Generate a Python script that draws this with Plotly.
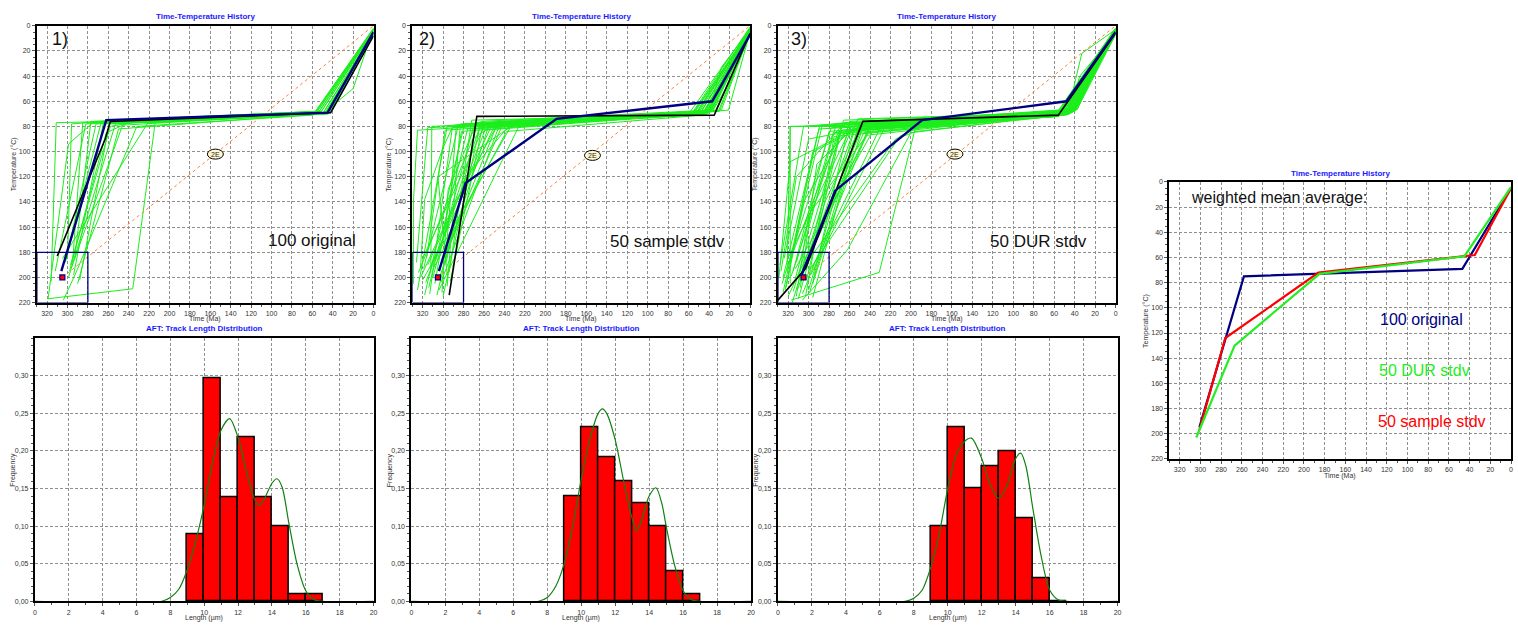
import plotly.graph_objects as go

W, H = 1518, 626
FONT = "Liberation Sans, Arial, sans-serif"

# ---------------- Time-temperature data (time in Ma, temperature in °C) ----------------
time_ticks = [320, 300, 280, 260, 240, 220, 200, 180, 160, 140, 120, 100, 80, 60, 40, 20, 0]
temp_ticks = [0, 20, 40, 60, 80, 100, 120, 140, 160, 180, 200, 220]

# constraint box and the 2E reference line
box_time = [330, 280]
box_temp = [180, 220]
ref_time = [305, 0]
ref_temp = [200, 0]
label_2e_time = [155, 154, 157]
label_2e_temp = [102, 103, 102]

# best-fit (black) and weighted mean (navy) paths per model run
best1_t = [310, 263, 258, 42, 0]
best1_T = [183, 90, 76, 69, 8]
mean1_t = [306, 262, 45, 0]
mean1_T = [195, 75, 69, 5]

best2_t = [294, 267, 35, 0]
best2_T = [214, 72, 71, 6]
mean2_t = [304, 278, 189, 37, 0]
mean2_T = [195, 125, 74, 60, 7]

best3_t = [330, 303, 247, 56, 0]
best3_T = [218, 193, 76, 71, 6]
mean3_t = [307, 274, 189, 48, 0]
mean3_T = [198, 131, 75, 60, 5]

# accepted (green) paths, each a list of (time, temperature) nodes
paths1 = [
    [(316, 203), (311, 77), (255, 76), (55, 68), (0, 3)],
    [(320, 217), (236, 209), (214, 77), (50, 70), (0, 5)],
    [(319, 217), (299, 94), (275, 77), (52, 69), (0, 4)],
    [(300, 185), (296, 78), (250, 75), (57, 68), (0, 2)],
    [(297, 190), (258, 80), (230, 76), (48, 70), (0, 6)],
    [(294, 198), (265, 78), (50, 70), (20, 50), (0, 2)],
    [(302, 188), (272, 78), (45, 70), (0, 6)],
    [(290, 205), (250, 82), (55, 70), (0, 3)],
    [(298, 195), (262, 85), (240, 77), (46, 69), (0, 5)],
    [(293, 185), (277, 76), (53, 68), (0, 4)],
    [(305, 185), (221, 77), (47, 70), (0, 7)],
    [(296, 192), (246, 79), (58, 70), (0, 3)],
    [(288, 202), (259, 78), (49, 69), (0, 5)],
    [(300, 180), (267, 77), (44, 70), (0, 8)],
    [(312, 195), (282, 78), (51, 68), (0, 4)],
    [(295, 188), (285, 77), (56, 69), (0, 3)],
    [(299, 200), (253, 78), (48, 70), (0, 6)],
    [(304, 218), (291, 195), (232, 80), (59, 71), (0, 2)],
]

paths2 = [
    [(329, 205), (329, 140), (325, 83), (265, 80), (45, 70), (0, 4)],
    [(322, 192), (318, 138), (300, 97), (290, 79), (40, 68), (0, 6)],
    [(325, 210), (296, 80), (60, 70), (0, 2)],
    [(318, 214), (279, 78), (50, 71), (0, 5)],
    [(312, 197), (311, 80), (240, 77), (42, 69), (0, 3)],
    [(300, 215), (263, 76), (38, 67), (0, 7)],
    [(308, 205), (282, 84), (35, 68), (21, 67), (0, 5)],
    [(315, 190), (253, 80), (55, 70), (0, 3)],
    [(296, 198), (305, 120), (230, 78), (48, 69), (0, 4)],
    [(320, 185), (300, 150), (258, 77), (30, 68), (0, 6)],
    [(304, 210), (226, 80), (58, 71), (0, 1)],
    [(310, 200), (270, 79), (44, 70), (0, 6)],
    [(298, 190), (287, 79), (40, 68), (28, 33), (0, 3)],
    [(322, 200), (288, 140), (248, 80), (53, 70), (0, 4)],
    [(314, 208), (276, 82), (46, 70), (0, 5)],
    [(293, 203), (261, 78), (33, 67), (0, 8)],
    [(305, 195), (242, 79), (50, 69), (0, 2)],
    [(326, 188), (315, 81), (254, 79), (41, 70), (0, 4)],
    [(301, 212), (295, 130), (267, 77), (37, 68), (0, 6)],
    [(317, 204), (259, 83), (56, 70), (0, 3)],
    [(309, 192), (238, 84), (47, 71), (0, 5)],
    [(296, 207), (283, 78), (39, 68), (0, 7)],
    [(324, 196), (271, 90), (250, 78), (43, 69), (0, 4)],
    [(307, 186), (264, 80), (52, 70), (0, 2)],
    [(313, 213), (291, 81), (36, 67), (20, 45), (0, 5)],
    [(299, 184), (246, 76), (31, 68), (0, 6)],
    [(320, 202), (233, 79), (49, 70), (0, 3)],
    [(303, 199), (256, 81), (45, 69), (0, 4)],
    [(316, 184), (298, 83), (28, 67), (0, 5)],
    [(294, 196), (272, 75), (54, 71), (0, 2)],
    [(311, 189), (249, 78), (34, 68), (0, 7)],
    [(306, 214), (278, 120), (236, 80), (42, 70), (0, 3)],
    [(319, 193), (285, 79), (57, 71), (0, 4)],
    [(302, 204), (244, 77), (38, 68), (0, 6)],
    [(297, 188), (268, 82), (46, 69), (0, 5)],
]

paths3 = [
    [(317, 218), (231, 196), (195, 79), (50, 70), (0, 4)],
    [(318, 205), (318, 80), (245, 80), (55, 72), (0, 3)],
    [(329, 200), (318, 108), (250, 80), (45, 70), (0, 6)],
    [(312, 215), (300, 150), (235, 78), (48, 71), (0, 5)],
    [(325, 212), (290, 82), (58, 72), (0, 2)],
    [(306, 218), (262, 178), (200, 85), (42, 69), (0, 5)],
    [(320, 190), (270, 86), (52, 71), (0, 4)],
    [(300, 210), (255, 82), (46, 70), (35, 40), (0, 6)],
    [(315, 195), (280, 84), (40, 67), (0, 3)],
    [(296, 205), (248, 83), (60, 72), (0, 2)],
    [(322, 208), (305, 140), (260, 79), (50, 70), (0, 5)],
    [(309, 200), (238, 76), (44, 69), (0, 7)],
    [(327, 195), (312, 120), (265, 77), (53, 71), (0, 4)],
    [(303, 215), (275, 88), (47, 70), (33, 22), (0, 3)],
    [(318, 188), (287, 80), (39, 66), (0, 6)],
    [(298, 198), (225, 80), (56, 72), (0, 4)],
    [(311, 210), (252, 74), (43, 69), (0, 5)],
    [(324, 185), (300, 90), (242, 81), (49, 70), (0, 3)],
    [(305, 192), (215, 90), (195, 84), (51, 71), (0, 6)],
    [(316, 220), (282, 130), (258, 82), (45, 70), (0, 4)],
    [(301, 188), (268, 79), (38, 67), (0, 7)],
    [(320, 215), (246, 85), (57, 72), (0, 2)],
    [(308, 208), (292, 110), (255, 80), (42, 68), (0, 5)],
    [(295, 200), (260, 76), (48, 70), (0, 4)],
    [(313, 193), (236, 82), (54, 71), (35, 62), (0, 3)],
    [(326, 205), (278, 81), (46, 70), (0, 6)],
    [(299, 212), (250, 77), (40, 68), (0, 5)],
    [(317, 199), (271, 84), (59, 72), (0, 3)],
    [(304, 186), (243, 87), (44, 69), (0, 6)],
    [(321, 196), (318, 80), (264, 79), (50, 71), (0, 4)],
    [(310, 217), (284, 140), (248, 78), (47, 70), (0, 5)],
    [(297, 193), (230, 81), (55, 71), (0, 2)],
    [(314, 204), (273, 78), (41, 68), (0, 7)],
    [(323, 210), (296, 100), (253, 83), (52, 70), (0, 4)],
    [(302, 202), (266, 75), (45, 69), (0, 5)],
    [(319, 183), (258, 80), (37, 66), (20, 30), (0, 3)],
    [(306, 213), (240, 79), (49, 70), (0, 6)],
    [(328, 190), (305, 80), (262, 77), (53, 71), (0, 4)],
    [(300, 195), (211, 88), (190, 80), (46, 70), (0, 5)],
    [(312, 188), (276, 85), (58, 72), (0, 3)],
    [(296, 216), (252, 81), (43, 69), (0, 6)],
    [(325, 200), (289, 79), (50, 70), (0, 4)],
    [(307, 197), (245, 76), (39, 67), (0, 5)],
    [(315, 211), (268, 83), (56, 71), (0, 3)],
]

# weighted mean averages of the three runs
wm_orig_t = [301, 258, 47, 0]
wm_orig_T = [195, 75, 69, 5]
wm_dur_t = [304, 267, 185, 45, 0]
wm_dur_T = [203, 130, 73, 59, 4]
wm_sample_t = [301, 276, 186, 35, 0]
wm_sample_T = [197, 124, 72, 58, 5]

# ---------------- Track length distributions ----------------
bin_centers = [9.5, 10.5, 11.5, 12.5, 13.5, 14.5, 15.5, 16.5]
freq1 = [0.089, 0.297, 0.138, 0.218, 0.138, 0.100, 0.010, 0.010]
freq2 = [0.140, 0.231, 0.191, 0.160, 0.130, 0.100, 0.040, 0.010]
freq3 = [0.100, 0.231, 0.150, 0.180, 0.200, 0.110, 0.030, 0.0]

model1_L = [0, 7.5, 8, 8.5, 9, 9.5, 10, 10.5, 11, 11.5, 12, 12.5, 13, 13.25, 13.5, 14, 14.3, 14.6, 15, 15.5, 16, 16.5, 17, 20]
model1_f = [0, 0, 0.005, 0.016, 0.042, 0.08, 0.128, 0.185, 0.228, 0.243, 0.218, 0.172, 0.134, 0.128, 0.134, 0.157, 0.163, 0.152, 0.104, 0.048, 0.014, 0.002, 0, 0]
model2_L = [0, 7.5, 8, 8.5, 9, 9.5, 10, 10.5, 11, 11.25, 11.5, 12, 12.5, 13, 13.25, 13.5, 14, 14.4, 14.75, 15, 15.5, 16, 16.5, 17, 20]
model2_f = [0, 0, 0.005, 0.02, 0.05, 0.1, 0.162, 0.215, 0.25, 0.256, 0.25, 0.215, 0.16, 0.11, 0.094, 0.104, 0.14, 0.151, 0.13, 0.1, 0.048, 0.014, 0.002, 0, 0]
model3_L = [0, 7.5, 8, 8.5, 9, 9.5, 10, 10.5, 11, 11.4, 12, 12.5, 13, 13.5, 14, 14.3, 14.6, 15, 15.5, 16, 16.5, 17, 20]
model3_f = [0, 0, 0.004, 0.015, 0.045, 0.09, 0.15, 0.195, 0.213, 0.217, 0.19, 0.155, 0.137, 0.155, 0.19, 0.197, 0.18, 0.125, 0.06, 0.015, 0.002, 0, 0]

freq_ticks = [0, 0.05, 0.10, 0.15, 0.20, 0.25, 0.30]
freq_labels = ["0,00", "0,05", "0,10", "0,15", "0,20", "0,25", "0,30"]
length_ticks = [0, 2, 4, 6, 8, 10, 12, 14, 16, 18, 20]

# ---------------- Colours ----------------
GREEN = "#1cee1c"
NAVY = "#000080"
ORANGE = "#ff8040"
RED = "#ff0000"
TITLE_BLUE = "#1a1aff"

# panel frames in pixels: left, top, right, bottom
frames = {
    1: (35, 22, 373, 302),
    2: (412, 22, 751, 302),
    3: (779, 22, 1118, 302),
    4: (1172, 180, 1515, 460),
    5: (33, 338, 373, 604),
    6: (411, 338, 752, 604),
    7: (779, 338, 1120, 604),
}


def dom(i):
    l, t, r, b = frames[i]
    return [l / W, r / W], [1 - b / H, 1 - t / H]


def sfx(i):
    return "" if i == 1 else str(i)


fig = go.Figure()


def flatten(paths):
    xs, ys = [], []
    for p in paths:
        for t, T in p:
            xs.append(t)
            ys.append(T)
        xs.append(None)
        ys.append(None)
    return xs, ys


tt_sets = [
    (1, paths1, best1_t, best1_T, mean1_t, mean1_T),
    (2, paths2, best2_t, best2_T, mean2_t, mean2_T),
    (3, paths3, best3_t, best3_T, mean3_t, mean3_T),
]

for i, paths, bt, bT, mt, mT in tt_sets:
    xa, ya = "x" + sfx(i), "y" + sfx(i)
    gx, gy = flatten(paths)
    fig.add_trace(go.Scatter(x=gx, y=gy, mode="lines", xaxis=xa, yaxis=ya,
                             line=dict(color=GREEN, width=1), hoverinfo="skip"))
    fig.add_trace(go.Scatter(x=ref_time, y=ref_temp, mode="lines", xaxis=xa, yaxis=ya,
                             line=dict(color=ORANGE, width=1, dash="dot")))
    fig.add_trace(go.Scatter(x=[box_time[0], box_time[0], box_time[1], box_time[1], box_time[0]],
                             y=[box_temp[0], box_temp[1], box_temp[1], box_temp[0], box_temp[0]],
                             mode="lines", xaxis=xa, yaxis=ya,
                             line=dict(color=NAVY, width=1.3)))
    fig.add_trace(go.Scatter(x=bt, y=bT, mode="lines", xaxis=xa, yaxis=ya,
                             line=dict(color="black", width=1.6)))
    fig.add_trace(go.Scatter(x=mt, y=mT, mode="lines", xaxis=xa, yaxis=ya,
                             line=dict(color=NAVY, width=2.4)))
    fig.add_trace(go.Scatter(x=[ref_time[0]], y=[ref_temp[0]], mode="markers", xaxis=xa, yaxis=ya,
                             marker=dict(symbol="square", size=5, color=RED,
                                         line=dict(color=NAVY, width=1.2))))
    # 2E label oval
    fig.add_shape(type="circle", xref=xa, yref=ya, xsizemode="pixel", ysizemode="pixel",
                  xanchor=label_2e_time[i - 1], yanchor=label_2e_temp[i - 1],
                  x0=-8, x1=8, y0=-5, y1=5, fillcolor="#fff8d0",
                  line=dict(color="black", width=1))
    fig.add_annotation(x=label_2e_time[i - 1], y=label_2e_temp[i - 1], xref=xa, yref=ya,
                       text="2E", showarrow=False, font=dict(size=7, color="#222", family=FONT))

# weighted mean panel
for t, T, c in [(wm_orig_t, wm_orig_T, NAVY), (wm_sample_t, wm_sample_T, RED), (wm_dur_t, wm_dur_T, "#22ee22")]:
    fig.add_trace(go.Scatter(x=t, y=T, mode="lines", xaxis="x4", yaxis="y4",
                             line=dict(color=c, width=2.2)))

# histograms and model curves
for i, freq, mL, mf in [(5, freq1, model1_L, model1_f), (6, freq2, model2_L, model2_f), (7, freq3, model3_L, model3_f)]:
    xa, ya = "x" + sfx(i), "y" + sfx(i)
    fig.add_trace(go.Bar(x=bin_centers, y=freq, width=1, xaxis=xa, yaxis=ya,
                         marker=dict(color=RED, line=dict(color="black", width=1.5))))
    fig.add_trace(go.Scatter(x=mL, y=mf, mode="lines", xaxis=xa, yaxis=ya,
                             line=dict(color="#108010", width=1.2, shape="spline", smoothing=0.8)))

tick_font = dict(size=7, color="#333", family=FONT)
axis_common = dict(showline=True, linecolor="black", linewidth=2, mirror=True,
                   showgrid=True, gridcolor="#8f8f8f", griddash="3px,2px", gridwidth=1,
                   ticks="outside", ticklen=3, tickcolor="#555", tickfont=tick_font,
                   zeroline=False, fixedrange=True)

layout = dict(width=W, height=H, margin=dict(l=0, r=0, t=0, b=0),
              paper_bgcolor="white", plot_bgcolor="white", showlegend=False,
              font=dict(family=FONT), bargap=0)

for i in range(1, 8):
    xd, yd = dom(i)
    xs, ys = sfx(i), sfx(i)
    if i <= 4:
        xax = dict(axis_common, domain=xd, anchor="y" + ys, range=[330, 0],
                   tickvals=time_ticks, minor=dict(dtick=10, ticklen=2, tickcolor="#555", showgrid=False))
        yax = dict(axis_common, domain=yd, anchor="x" + xs, range=[220, 0],
                   tickvals=temp_ticks, minor=dict(dtick=5, ticklen=2, tickcolor="#555", showgrid=False))
    else:
        xax = dict(axis_common, domain=xd, anchor="y" + ys, range=[0, 20],
                   tickvals=length_ticks, minor=dict(dtick=1, ticklen=2, tickcolor="#555", showgrid=False))
        yax = dict(axis_common, domain=yd, anchor="x" + xs, range=[0, 0.35],
                   tickvals=freq_ticks, ticktext=freq_labels,
                   minor=dict(dtick=0.01, ticklen=2, tickcolor="#555", showgrid=False))
    layout["xaxis" + xs] = xax
    layout["yaxis" + ys] = yax

fig.update_layout(**layout)


def ann(x, y, text, size=7, color="#333", xanchor="center", angle=0, bold=False):
    if bold:
        text = "<b>" + text + "</b>"
    fig.add_annotation(x=x / W, y=1 - y / H, xref="paper", yref="paper", text=text,
                       showarrow=False, xanchor=xanchor, yanchor="middle", textangle=angle,
                       font=dict(size=size, color=color, family=FONT))


# panel titles and axis titles
for i in (1, 2, 3, 4):
    l, t, r, b = frames[i]
    ann((l + r) / 2, t - 9, "Time-Temperature History", size=8, color=TITLE_BLUE, bold=True)
    ann((l + r) / 2, b + 17, "Time (Ma)", size=7)
    ann(l - 23, (t + b) / 2, "Temperature (°C)", size=7, angle=-90)
for i in (5, 6, 7):
    l, t, r, b = frames[i]
    ann((l + r) / 2, t - 10, "AFT: Track Length Distribution", size=8, color=TITLE_BLUE, bold=True)
    ann((l + r) / 2, b + 17, "Length (µm)", size=7)
    ann(l - 22, (t + b) / 2, "Frequency", size=7, angle=-90)

# run labels
ann(48, 35, "1)", size=18, color="#111", xanchor="left")
ann(417, 35, "2)", size=18, color="#111", xanchor="left")
ann(790, 35, "3)", size=18, color="#111", xanchor="left")
ann(265, 239, "100 original", size=17, color="#111", xanchor="left")
ann(608, 240, "50 sample stdv", size=17, color="#111", xanchor="left")
ann(990, 240, "50 DUR stdv", size=17, color="#111", xanchor="left")

ann(1192, 196, "weighted mean average:", size=16, color="#111", xanchor="left")
ann(1381, 319, "100 original", size=16, color=NAVY, xanchor="left")
ann(1380, 371, "50 DUR stdv", size=16, color="#22ee22", xanchor="left")
ann(1379, 422, "50 sample stdv", size=16, color=RED, xanchor="left")

fig.write_html("out.html")
